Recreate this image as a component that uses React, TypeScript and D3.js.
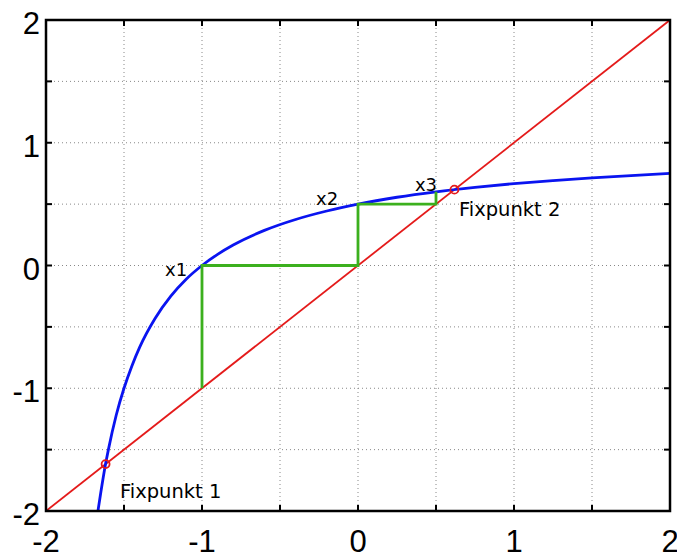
import React, { useEffect, useRef } from 'react';
import * as d3 from 'd3';

// values
const curveX = [-1.667, -1.65, -1.62, -1.6, -1.55, -1.5, -1.45, -1.4, -1.3, -1.2, -1.1, -1.0, -0.9, -0.8, -0.6, -0.4, -0.2, 0, 0.25, 0.5, 0.75, 1.0, 1.25, 1.5, 1.75, 2.0];
const curveY = [-2.0, -1.86, -1.63, -1.5, -1.22, -1.0, -0.82, -0.667, -0.43, -0.25, -0.11, 0, 0.091, 0.167, 0.286, 0.375, 0.444, 0.5, 0.556, 0.6, 0.636, 0.667, 0.692, 0.714, 0.733, 0.75];
const diagX = [-2, 2];
const cobwebX = [-1, -1, 0, 0, 0.5, 0.5];
const cobwebY = [-1, 0, 0, 0.5, 0.5, 0.6];
const fixX = [-1.618, 0.618];
const fixLabels = ['Fixpunkt 1', 'Fixpunkt 2'];
const fixLabelPos = [[-1.526, -1.894], [0.647, 0.407]];
const iterLabels = ['x1', 'x2', 'x3'];
const iterLabelPos = [[-1.237, -0.086], [-0.269, 0.493], [0.365, 0.607]];
const gridTicks = [-2, -1.5, -1, -0.5, 0, 0.5, 1, 1.5, 2];
const labelTicks = [-2, -1, 0, 1, 2];

const App = () => {
  const ref = useRef<SVGSVGElement>(null);

  useEffect(() => {
    const svg = d3.select(ref.current);
    svg.selectAll('*').remove();
    const left = 46, right = 670, top = 20, bottom = 511;
    const x = d3.scaleLinear().domain([-2, 2]).range([left, right]);
    const y = d3.scaleLinear().domain([-2, 2]).range([bottom, top]);

    svg.append('rect').attr('width', 677).attr('height', 555).attr('fill', 'white');

    // grid
    const grid = svg.append('g').attr('stroke', '#888').attr('stroke-width', 1).attr('stroke-dasharray', '1,3');
    gridTicks.slice(1, -1).forEach(t => {
      grid.append('line').attr('x1', x(t)).attr('x2', x(t)).attr('y1', top).attr('y2', bottom);
      grid.append('line').attr('y1', y(t)).attr('y2', y(t)).attr('x1', left).attr('x2', right);
    });

    // ticks (inward, all four sides)
    const tk = svg.append('g').attr('stroke', 'black').attr('stroke-width', 2);
    gridTicks.slice(1, -1).forEach(t => {
      tk.append('line').attr('x1', x(t)).attr('x2', x(t)).attr('y1', bottom).attr('y2', bottom - 6);
      tk.append('line').attr('x1', x(t)).attr('x2', x(t)).attr('y1', top).attr('y2', top + 6);
      tk.append('line').attr('y1', y(t)).attr('y2', y(t)).attr('x1', left).attr('x2', left + 6);
      tk.append('line').attr('y1', y(t)).attr('y2', y(t)).attr('x1', right).attr('x2', right - 6);
    });

    // red diagonal
    svg.append('path')
      .datum(diagX)
      .attr('d', d3.line<number>().x(d => x(d)).y(d => y(d)))
      .attr('stroke', '#e41a1a').attr('stroke-width', 1.8).attr('fill', 'none');

    // blue curve
    svg.append('path')
      .datum(curveX.map((d, i) => [d, curveY[i]] as [number, number]))
      .attr('d', d3.line().x(d => x(d[0])).y(d => y(d[1])).curve(d3.curveMonotoneX))
      .attr('stroke', '#0a14f0').attr('stroke-width', 2.8).attr('fill', 'none');

    // green cobweb
    svg.append('path')
      .datum(cobwebX.map((d, i) => [d, cobwebY[i]] as [number, number]))
      .attr('d', d3.line().x(d => x(d[0])).y(d => y(d[1])))
      .attr('stroke', '#3cb01e').attr('stroke-width', 2.8).attr('fill', 'none');

    // fixed points
    fixX.forEach(f => {
      svg.append('circle').attr('cx', x(f)).attr('cy', y(f)).attr('r', 4)
        .attr('fill', 'none').attr('stroke', '#e41a1a').attr('stroke-width', 1.8);
    });

    const lab = svg.append('g').attr('font-family', 'DejaVu Sans, sans-serif').attr('fill', 'black');
    fixLabels.forEach((t, i) => {
      lab.append('text').attr('x', x(fixLabelPos[i][0])).attr('y', y(fixLabelPos[i][1])).attr('font-size', 19.5).text(t);
    });
    iterLabels.forEach((t, i) => {
      lab.append('text').attr('x', x(iterLabelPos[i][0])).attr('y', y(iterLabelPos[i][1])).attr('font-size', 18).text(t);
    });

    // frame
    svg.append('rect').attr('x', left).attr('y', top).attr('width', right - left).attr('height', bottom - top)
      .attr('fill', 'none').attr('stroke', 'black').attr('stroke-width', 2.5);

    // tick labels
    const tl = svg.append('g').attr('font-family', 'Liberation Sans, Arial, sans-serif').attr('font-size', 31).attr('fill', 'black');
    labelTicks.forEach(t => {
      tl.append('text').attr('x', 40).attr('y', y(t) + 14).attr('text-anchor', 'end').text(String(t));
      tl.append('text').attr('x', x(t)).attr('y', 552).attr('text-anchor', 'middle').text(String(t));
    });
  }, []);

  return (
    <svg ref={ref} width={677} height={555} style={{ position: 'absolute', left: 0, top: 0 }}></svg>
  );
};

export default App;
